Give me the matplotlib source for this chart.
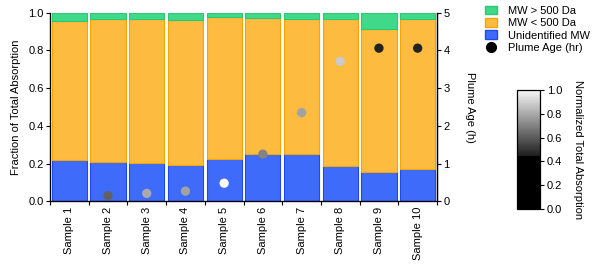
import numpy as np
import matplotlib
matplotlib.use("Agg")
import matplotlib.pyplot as plt
from matplotlib.colors import LinearSegmentedColormap, Normalize
from matplotlib.lines import Line2D
from matplotlib.patches import Patch

plt.rcParams['font.family'] = ['Liberation Sans', 'DejaVu Sans']

samples = ["Sample 1", "Sample 2", "Sample 3", "Sample 4", "Sample 5",
           "Sample 6", "Sample 7", "Sample 8", "Sample 9", "Sample 10"]
unidentified = [0.218, 0.209, 0.202, 0.190, 0.223, 0.252, 0.253, 0.188, 0.156, 0.169]
mw_lt500_top = [0.954, 0.968, 0.966, 0.963, 0.979, 0.973, 0.968, 0.968, 0.915, 0.964]
mw_lt500 = [t - u for t, u in zip(mw_lt500_top, unidentified)]
mw_gt500 = [1 - t for t in mw_lt500_top]

age_samples = [1, 2, 3, 4, 5, 6, 7, 8, 9]  # indices (Sample 2..10)
plume_age = [0.15, 0.21, 0.27, 0.48, 1.25, 2.35, 3.71, 4.06, 4.06]
norm_abs = [0.62, 0.80, 0.78, 1.00, 0.70, 0.78, 0.88, 0.46, 0.46]

green, green_e = "#40d98a", "#2cc873"
orange, orange_e = "#fdbb40", "#f5a400"
blue, blue_e = "#3f6bfa", "#1f48f0"

cmap = LinearSegmentedColormap.from_list(
    "absn", [(0.0, "#000000"), (0.45, "#000000"), (0.451, "#202020"), (1.0, "#f8f8f8")])
norm = Normalize(0, 1)

FS = 8

fig = plt.figure(figsize=(6.0, 2.65), dpi=100)
ax = fig.add_axes([50/600, 1-201.3/265, (437-50)/600, (201.3-12.7)/265])

x = np.arange(len(samples))
w = 0.91
ax.bar(x, unidentified, w, color=blue, edgecolor=blue_e, linewidth=0.8)
ax.bar(x, mw_lt500, w, bottom=unidentified, color=orange, edgecolor=orange_e, linewidth=0.8)
ax.bar(x, mw_gt500, w, bottom=mw_lt500_top, color=green, edgecolor=green_e, linewidth=0.8)

ax.set_xlim(-0.5, len(samples) - 0.5)
ax.set_ylim(0, 1.0)
ax.set_yticks([0, 0.2, 0.4, 0.6, 0.8, 1.0])
ax.set_yticklabels(["0.0", "0.2", "0.4", "0.6", "0.8", "1.0"], fontsize=FS)
ax.set_xticks(x)
ax.set_xticklabels(samples, rotation=90, fontsize=FS)
ax.tick_params(axis='x', length=0, pad=4)
ax.set_xticks(np.arange(-0.5, len(samples)), minor=True)
ax.tick_params(axis='x', which='minor', length=3, width=0.8)
ax.tick_params(axis='y', length=3, width=0.8, pad=1.5)
ax.set_ylabel("Fraction of Total Absorption", fontsize=FS, labelpad=5)
ax.spines['top'].set_visible(False)
for s in ['left', 'bottom', 'right']:
    ax.spines[s].set_linewidth(0.9)

ax2 = ax.twinx()
ax2.set_ylim(0, 5)
ax2.set_yticks([0, 1, 2, 3, 4, 5])
ax2.tick_params(axis='y', length=3, width=0.8, labelsize=FS, pad=1.5)
ax2.spines['top'].set_visible(False)
ax2.spines['right'].set_linewidth(0.9)
ax2.set_ylabel("Plume Age (h)", rotation=270, fontsize=FS, labelpad=18)
ax2.scatter(age_samples, plume_age, c=norm_abs, cmap=cmap, norm=norm, s=45,
            edgecolors='none', zorder=5)

cax = fig.add_axes([517/600, 1-209/265, 23/600, (209-90)/265])
sm = matplotlib.cm.ScalarMappable(norm=norm, cmap=cmap)
cb = fig.colorbar(sm, cax=cax)
cb.set_ticks([0, 0.2, 0.4, 0.6, 0.8, 1.0])
cb.set_ticklabels(["0.0", "0.2", "0.4", "0.6", "0.8", "1.0"])
cb.ax.tick_params(labelsize=FS, length=3, width=0.8, pad=2)
cb.outline.set_linewidth(0.9)
cb.set_label("Normalized Total Absorption", rotation=270, fontsize=FS, labelpad=15)

handles = [
    Patch(facecolor=green, edgecolor=green_e, label="MW > 500 Da"),
    Patch(facecolor=orange, edgecolor=orange_e, label="MW < 500 Da"),
    Patch(facecolor=blue, edgecolor=blue_e, label="Unidentified MW"),
    Line2D([], [], marker='o', color='none', markerfacecolor='black',
           markeredgecolor='black', markersize=7, label="Plume Age (hr)"),
]
fig.legend(handles=handles, loc='upper left', bbox_to_anchor=(481/600, 0.995),
           frameon=False, fontsize=FS, handlelength=1.0, handleheight=0.8,
           handletextpad=1.0, labelspacing=0.2, borderaxespad=0.0)

fig.savefig("out.png", dpi=100)
